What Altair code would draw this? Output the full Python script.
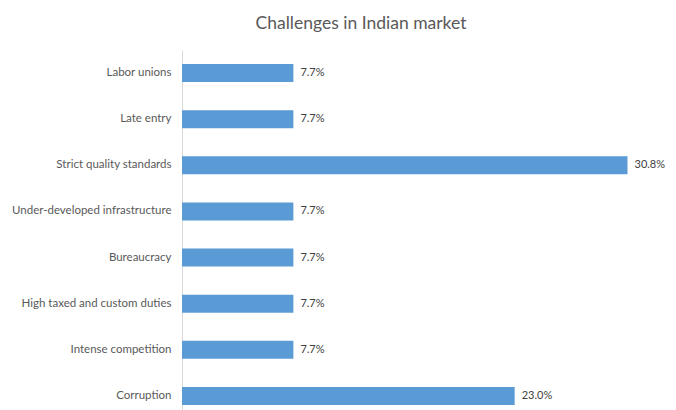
import altair as alt
import pandas as pd

categories = [
    "Labor unions",
    "Late entry",
    "Strict quality standards",
    "Under-developed infrastructure",
    "Bureaucracy",
    "High taxed and custom duties",
    "Intense competition",
    "Corruption",
]
values = [7.7, 7.7, 30.8, 7.7, 7.7, 7.7, 7.7, 23.0]

df = pd.DataFrame({"category": categories, "value": values})
df["label"] = [f"{v:.1f}%" for v in values]

FONT = "Lato"

y_enc = alt.Y(
    "category:N",
    sort=categories,
    scale=alt.Scale(paddingInner=0.61, paddingOuter=0.206, align=0.737),
    axis=alt.Axis(
        title=None,
        ticks=False,
        domainColor="#D9D9D9",
        domainWidth=1,
        labelColor="#595959",
        labelFontSize=11.5,
        labelFont=FONT,
        labelPadding=11,
        grid=False,
    ),
)
x_enc = alt.X(
    "value:Q",
    scale=alt.Scale(domain=[0, 33.6], nice=False),
    axis=None,
)

bars = alt.Chart(df).mark_bar(color="#5B9BD5").encode(x=x_enc, y=y_enc)
text = alt.Chart(df).mark_text(
    align="left", baseline="middle", dx=7, fontSize=11, font=FONT, color="#404040"
).encode(x=x_enc, y=y_enc, text="label:N")

chart = (
    (bars + text)
    .properties(
        width=486,
        height=360,
        autosize=alt.AutoSizeParams(type="none"),
        padding={"left": 174, "top": 42, "right": 0, "bottom": 0},
        title=alt.TitleParams(
            "Challenges in Indian market",
            font=FONT,
            fontSize=17.5,
            fontWeight="normal",
            color="#595959",
            anchor="middle",
            dx=-64,
            offset=18,
        ),
    )
    .configure_view(stroke=None)
)

chart.save("out.html", embed_options={"renderer": "svg", "actions": False})
